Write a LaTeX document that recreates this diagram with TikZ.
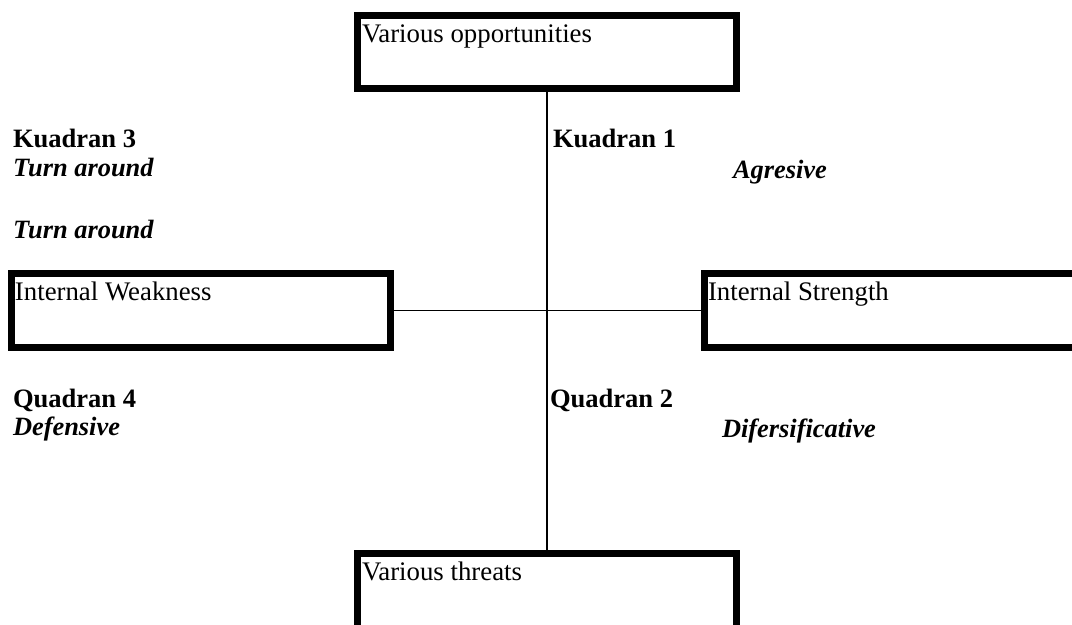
\documentclass[tikz,border=0pt]{standalone}
\usepackage{fontspec}
\setmainfont{Liberation Serif}
\begin{document}
\begin{tikzpicture}[x=0.75pt,y=-0.75pt,
  every node/.style={inner sep=0pt,outer sep=0pt},
  frame/.style={draw,line width=5.25pt,rectangle,outer sep=2.625pt},
  txt/.style={anchor=base west,font=\fontsize{20.1}{24}\selectfont},
  lbl/.style={txt,font=\fontsize{19.9}{24}\selectfont\bfseries},
  ital/.style={txt,font=\fontsize{19.8}{24}\selectfont\bfseries\itshape},
  link/.style={line width=1.4pt}]
\useasboundingbox (0,0) rectangle (1072,625);
\clip (0,0) rectangle (1072,625);
% boxes (centre-line coordinates)
\node[frame,minimum width=379*0.75pt,minimum height=73*0.75pt] (opp) at (547,52) {};
\node[frame,minimum width=379*0.75pt,minimum height=74*0.75pt] (weak) at (201,310.5) {};
\node[frame,minimum width=400*0.75pt,minimum height=74*0.75pt] (str) at (904.5,310.5) {};
\node[frame,minimum width=379*0.75pt,minimum height=90*0.75pt] (thr) at (547,598.5) {};
% box texts
\node[txt] (opptxt) at (362,42) {Various opportunities};
\node[txt] (weaktxt) at (15,300) {Internal Weakness};
\node[txt] (strtxt) at (708,300) {Internal Strength};
\node[txt] (thrtxt) at (362,580) {Various threats};
% connectors
\draw[link] (opp.south) -- (thr.north);
\draw[link] (weak.east) -- (str.west);
% quadrant labels
\node[lbl] (k3) at (13,147) {Kuadran 3};
\node[ital] (k3a) at (13,176) {Turn around};
\node[ital] (k3b) at (13,238) {Turn around};
\node[lbl] (k1) at (553,147) {Kuadran 1};
\node[ital] (k1a) at (733,178) {Agresive};
\node[lbl] (q4) at (13,407) {Quadran 4};
\node[ital] (q4a) at (13,435) {Defensive};
\node[lbl] (q2) at (550,407) {Quadran 2};
\node[ital] (q2a) at (722,437) {Difersificative};
\end{tikzpicture}
\end{document}
